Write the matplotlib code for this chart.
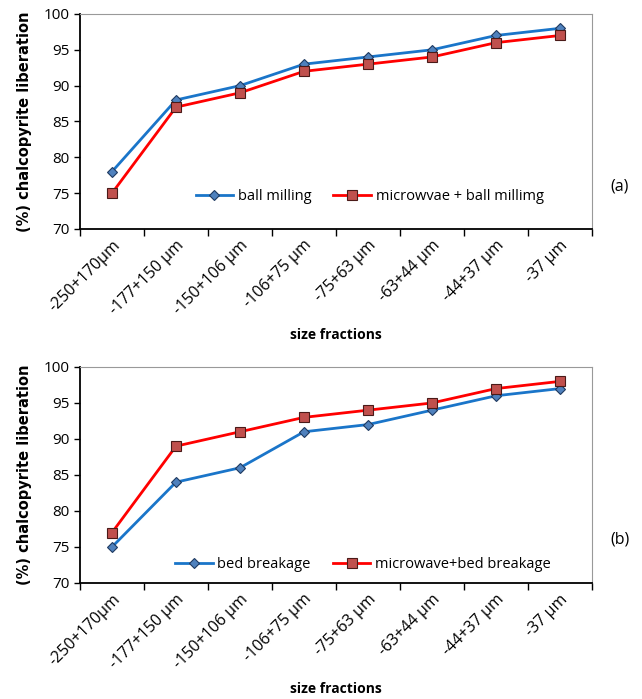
import numpy as np
import matplotlib.pyplot as plt

categorias = ['-250+170μm', '-177+150 μm', '-150+106 μm', '-106+75 μm',
              '-75+63 μm', '-63+44 μm', '-44+37 μm', '-37 μm']

ball_milling = [78, 88, 90, 93, 94, 95, 97, 98]
microondas_ball = [75, 87, 89, 92, 93, 94, 96, 97]

bed_breakage = [75, 84, 86, 91, 92, 94, 96, 97]
microondas_bed = [77, 89, 91, 93, 94, 95, 97, 98]

azul = '#1a75c9'
rojo = '#ff0000'

fig = plt.figure(figsize=(6.42, 6.99), dpi=100)
ax1 = fig.add_axes([0.1246, 0.6724, 0.7975, 0.3076])
ax2 = fig.add_axes([0.1246, 0.166, 0.7975, 0.309])

x = np.arange(len(categorias))


def armar(ax, y_azul, y_rojo, lab_azul, lab_rojo, pos_leyenda):
    ax.plot(x, y_azul, color=azul, lw=2, marker='D', ms=5.5,
            mfc='#4f81bd', mec='#1f3a60', mew=0.8, label=lab_azul, zorder=3)
    ax.plot(x, y_rojo, color=rojo, lw=2, marker='s', ms=7,
            mfc='#c0504d', mec='#4a1a18', mew=0.8, label=lab_rojo, zorder=3)
    ax.set_xlim(-0.5, 7.5)
    ax.set_ylim(70, 100)
    ax.set_yticks([70, 75, 80, 85, 90, 95, 100])
    ax.set_xticks(x)
    ax.set_xticklabels(categorias, rotation=45, ha='right',
                       rotation_mode='anchor', fontsize=11.5,
                       family='Open Sans')
    ax.set_xticks(np.arange(-0.5, 8.0, 1.0), minor=True)
    ax.tick_params(axis='x', which='major', length=0, pad=6)
    ax.tick_params(axis='x', which='minor', length=5, width=1, direction='out')
    ax.tick_params(axis='y', length=4, width=1, direction='out', labelsize=11)
    for t in ax.get_yticklabels():
        t.set_family('Open Sans')
    ax.spines['left'].set_linewidth(1.3)
    ax.spines['bottom'].set_linewidth(1.3)
    ax.spines['top'].set_color('#999999')
    ax.spines['right'].set_color('#999999')
    ax.spines['top'].set_linewidth(0.8)
    ax.spines['right'].set_linewidth(0.8)
    ax.set_ylabel('(%) chalcopyrite liberation', fontsize=10.5,
                  fontweight='bold', labelpad=8)
    ax.set_xlabel('size fractions', fontsize=10, fontweight='bold',
                  family='Open Sans', labelpad=7)
    ax.legend(loc='lower left', bbox_to_anchor=pos_leyenda, ncol=2,
              frameon=False, handlelength=2.6, columnspacing=1.5,
              handletextpad=0.3, prop={'family': 'Open Sans', 'size': 10.5})


armar(ax1, ball_milling, microondas_ball, 'ball milling',
      'microwvae + ball millimg', (0.2, 0.055))
armar(ax2, bed_breakage, microondas_bed, 'bed breakage',
      'microwave+bed breakage', (0.16, -0.01))

fig.text(0.95, 0.728, '(a)', fontsize=11.5, family='Open Sans')
fig.text(0.95, 0.222, '(b)', fontsize=11.5, family='Open Sans')

plt.savefig('out.png', dpi=100)
